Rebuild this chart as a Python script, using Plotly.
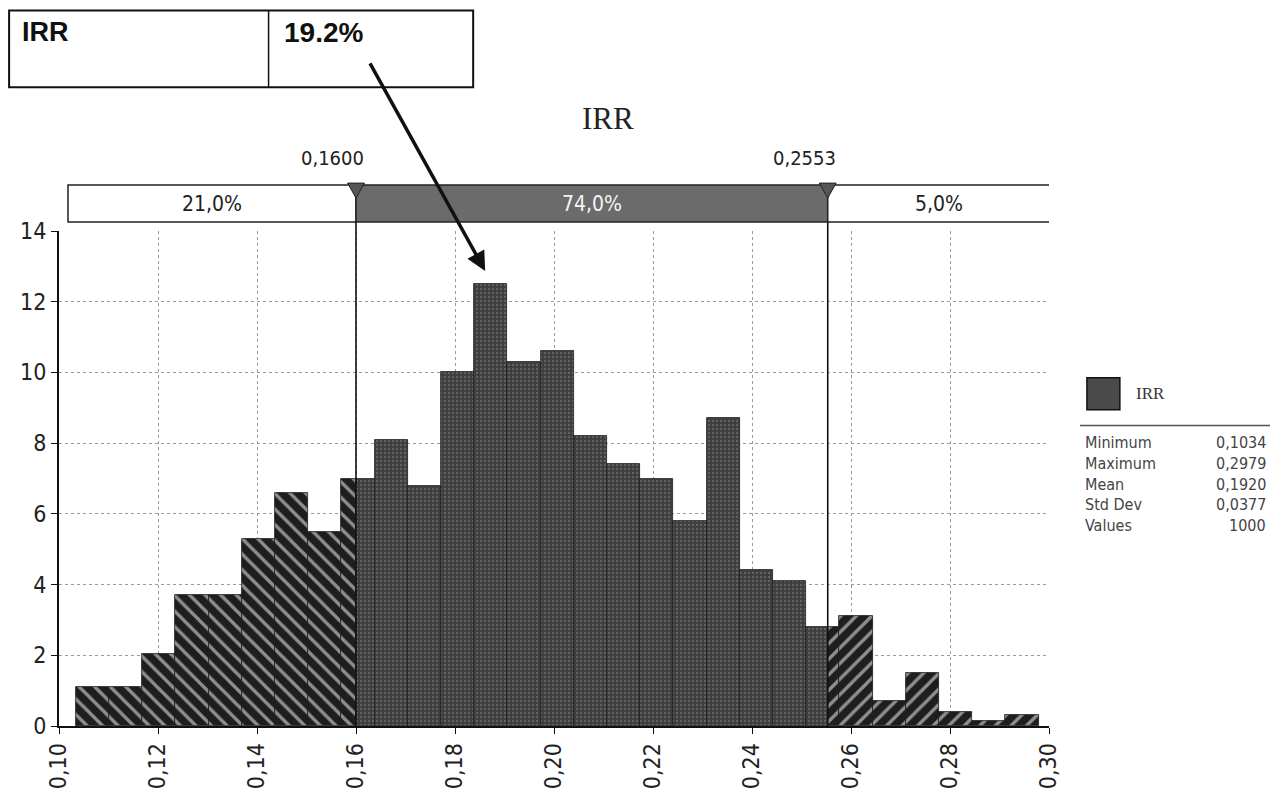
import numpy as np
import plotly.graph_objects as go

# ---------------- data ----------------
bin_min = 0.1034
bin_max = 0.2979
density = [1.1, 1.1, 2.05, 3.7, 3.7, 5.3, 6.6, 5.5, 7.0, 8.1, 6.8, 10.0, 12.5, 10.3,
           10.6, 8.2, 7.4, 7.0, 5.8, 8.7, 4.4, 4.1, 2.8, 3.1, 0.7, 1.5, 0.4, 0.15, 0.3]
lower_cut = 0.1600
upper_cut = 0.2553
cut_labels = ["0,1600", "0,2553"]
region_labels = ["21,0%", "74,0%", "5,0%"]
stat_names = ["Minimum", "Maximum", "Mean", "Std Dev", "Values"]
stat_values = ["0,1034", "0,2979", "0,1920", "0,0377", "1000"]
x_tick_vals = [0.10, 0.12, 0.14, 0.16, 0.18, 0.20, 0.22, 0.24, 0.26, 0.28, 0.30]
x_tick_text = ["0,10", "0,12", "0,14", "0,16", "0,18", "0,20", "0,22", "0,24", "0,26", "0,28", "0,30"]
y_tick_vals = [0, 2, 4, 6, 8, 10, 12, 14]
chart_title = "IRR"
series_name = "IRR"
callout_label = "IRR"
callout_value = "19.2%"
callout_target = (0.1861, 12.87)

# ---------------- geometry helpers (target pixel -> figure coords) ----------------
OFF = 8
W, H = 1278 - 2 * OFF, 809 - 2 * OFF
PX_L, PX_R, PX_T, PX_B = 57, 1049, 231, 727


def px(x):
    return (x - PX_L) / (PX_R - PX_L)


def py(y):
    return (PX_B - y) / (PX_B - PX_T)


def dx(x):
    return 0.10 + (x - PX_L) / (PX_R - PX_L) * 0.20


FONT = "DejaVu Sans Condensed, DejaVu Sans, sans-serif"
SERIF = "Liberation Serif, DejaVu Serif, serif"

# ---------------- bar segments ----------------
edges = np.linspace(bin_min, bin_max, len(density) + 1)
regions = [(-1.0, lower_cut), (lower_cut, upper_cut), (upper_cut, 1.0)]
segments = []
for lo, hi in regions:
    xs, ws, hs = [], [], []
    for i, h in enumerate(density):
        a = max(edges[i], lo)
        b = min(edges[i + 1], hi)
        if b > a:
            xs.append((a + b) / 2)
            ws.append(b - a)
            hs.append(h)
    segments.append((xs, ws, hs))

fig = go.Figure()
patterns = [
    dict(shape="\\", bgcolor="#1e1e1e", fgcolor="#ffffff", size=11, solidity=0.3),
    dict(shape=".", bgcolor="#3e3e3e", fgcolor="#8a8a8a", size=4, solidity=0.25),
    dict(shape="/", bgcolor="#1e1e1e", fgcolor="#ffffff", size=11, solidity=0.3),
]
for (xs, ws, hs), pat in zip(segments, patterns):
    fig.add_trace(go.Bar(
        x=xs, y=hs, width=ws, name=series_name, showlegend=False,
        marker=dict(color="#3e3e3e", line=dict(color="#1a1a1a", width=0.8), pattern=pat),
        hoverinfo="skip",
    ))

shapes = []
annotations = []

# top-left callout box
shapes.append(dict(type="rect", xref="paper", yref="paper", x0=px(7), x1=px(472),
                   y0=py(87), y1=py(10), line=dict(color="#111", width=2), fillcolor="white"))
shapes.append(dict(type="line", xref="paper", yref="paper", x0=px(267), x1=px(267),
                   y0=py(87), y1=py(10), line=dict(color="#111", width=1.5)))
annotations.append(dict(xref="paper", yref="paper", x=px(18), y=py(32), xanchor="left",
                        yanchor="middle", text="<b>%s</b>" % callout_label, showarrow=False,
                        font=dict(family="Liberation Sans, Arial, sans-serif", size=27, color="#111")))
annotations.append(dict(xref="paper", yref="paper", x=px(280), y=py(32), xanchor="left",
                        yanchor="middle", text="<b>%s</b>" % callout_value, showarrow=False,
                        font=dict(family="Liberation Sans, Arial, sans-serif", size=28, color="#111")))

# arrow from box to peak
annotations.append(dict(xref="x", yref="y", x=callout_target[0], y=callout_target[1], text="",
                        showarrow=True, arrowhead=2, arrowsize=1.1, arrowwidth=3.5,
                        arrowcolor="#111", ax=-116, ay=-209))

# title
annotations.append(dict(xref="paper", yref="paper", x=px(607), y=py(118), text=chart_title,
                        showarrow=False, xanchor="center", yanchor="middle",
                        font=dict(family=SERIF, size=31, color="#222")))

# delimiter strip
strip_lo, strip_hi = dx(66), dx(1050)
y_top, y_bot = py(185), py(222)
strip_parts = [(strip_lo, lower_cut, "white", "#222"),
               (lower_cut, upper_cut, "#6b6b6b", "#f4f4f4"),
               (upper_cut, strip_hi, "white", "#222")]
for (a, b, fc, tc), lab in zip(strip_parts, region_labels):
    shapes.append(dict(type="rect", xref="x", yref="paper", x0=a, x1=b, y0=y_bot, y1=y_top,
                       fillcolor=fc, line=dict(color="#222", width=1.5), layer="above"))
    annotations.append(dict(xref="x", yref="paper", x=(a + b) / 2, y=(y_top + y_bot) / 2,
                            text=lab, showarrow=False, xanchor="center", yanchor="middle",
                            font=dict(family=FONT, size=21, color=tc)))

# cut lines, triangles and labels
for cut, lab in zip([lower_cut, upper_cut], cut_labels):
    shapes.append(dict(type="line", xref="x", yref="paper", x0=cut, x1=cut, y0=0, y1=y_bot,
                       line=dict(color="#111", width=1.6), layer="above"))
    tw = 0.0017
    shapes.append(dict(type="path", xref="x", yref="paper",
                       path="M %f,%f L %f,%f L %f,%f Z" % (cut - tw, py(183), cut + tw, py(183), cut, py(198)),
                       fillcolor="#555", line=dict(color="#222", width=1), layer="above"))
    annotations.append(dict(xref="x", yref="paper", x=cut, y=py(158), text=lab, showarrow=False,
                            xanchor="right", yanchor="middle", xshift=10,
                            font=dict(family=FONT, size=20, color="#222")))

# legend / stats panel
shapes.append(dict(type="rect", xref="paper", yref="paper", x0=px(1087), x1=px(1120),
                   y0=py(410), y1=py(378), fillcolor="#4a4a4a", line=dict(color="#111", width=1.5)))
annotations.append(dict(xref="paper", yref="paper", x=px(1134), y=py(394), text=series_name,
                        showarrow=False, xanchor="left", yanchor="middle",
                        font=dict(family=SERIF, size=17, color="#333")))
shapes.append(dict(type="line", xref="paper", yref="paper", x0=px(1080), x1=px(1278),
                   y0=py(426), y1=py(426), line=dict(color="#555", width=1.5)))
row_y = [443, 464, 485, 505, 526]
for name, val, ry in zip(stat_names, stat_values, row_y):
    annotations.append(dict(xref="paper", yref="paper", x=px(1083), y=py(ry), text=name,
                            showarrow=False, xanchor="left", yanchor="middle",
                            font=dict(family=FONT, size=16, color="#444")))
    annotations.append(dict(xref="paper", yref="paper", x=px(1268), y=py(ry), text=val,
                            showarrow=False, xanchor="right", yanchor="middle",
                            font=dict(family=FONT, size=16, color="#444")))

fig.update_layout(
    width=W, height=H,
    margin=dict(l=PX_L - OFF, r=W - (PX_R - OFF), t=PX_T - OFF, b=H - (PX_B - OFF), pad=0),
    paper_bgcolor="white", plot_bgcolor="white",
    barmode="overlay", bargap=0, showlegend=False,
    shapes=shapes, annotations=annotations,
    xaxis=dict(range=[0.10, 0.30], tickvals=x_tick_vals, ticktext=x_tick_text, tickangle=-90,
               showline=True, linecolor="#111", linewidth=2, ticks="outside", ticklen=6,
               tickcolor="#111", showgrid=True, gridcolor="#9a9a9a", griddash="dot", gridwidth=1,
               zeroline=False, tickfont=dict(family=FONT, size=23, color="#222")),
    yaxis=dict(range=[0, 14], tickvals=y_tick_vals, showline=True, linecolor="#111", linewidth=2,
               ticks="outside", ticklen=6, tickcolor="#111", showgrid=True, gridcolor="#9a9a9a",
               griddash="dot", gridwidth=1, zeroline=False,
               tickfont=dict(family=FONT, size=23, color="#222")),
)

fig.write_html("out.html")
